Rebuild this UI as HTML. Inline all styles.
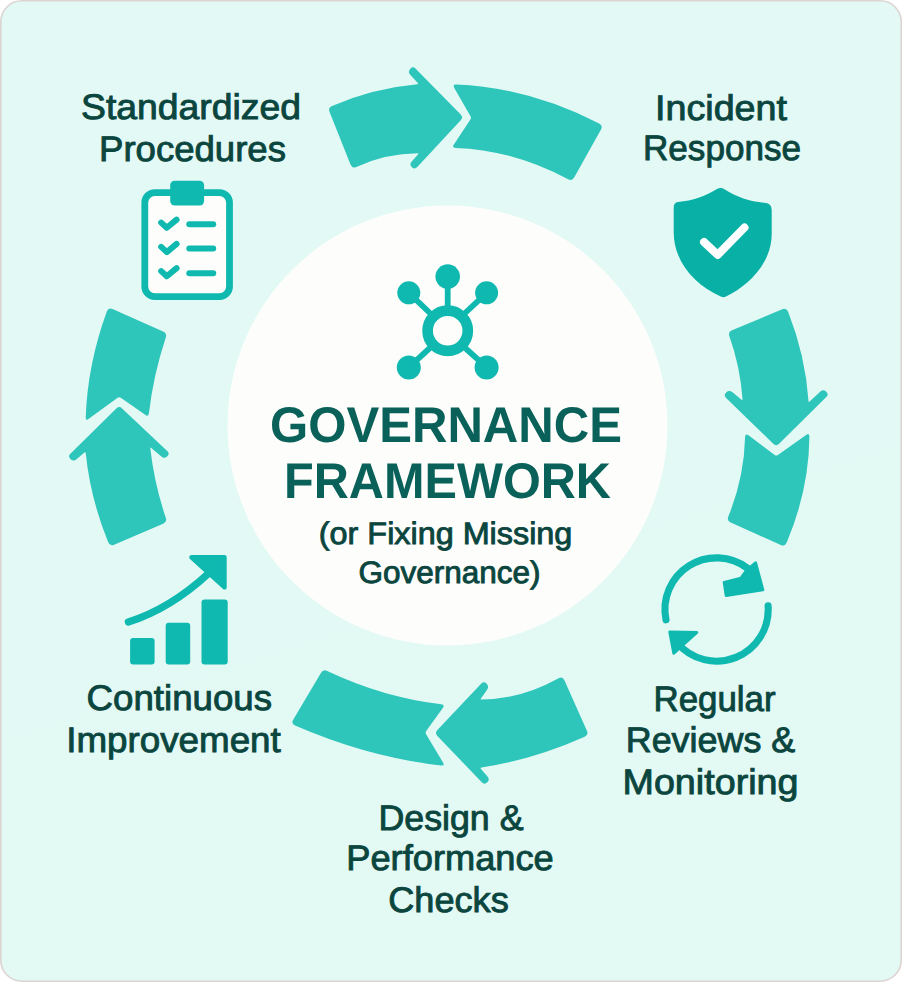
<!DOCTYPE html>
<html><head><meta charset="utf-8"><style>
html,body{margin:0;padding:0;background:#fff;width:902px;height:982px;overflow:hidden}
svg{display:block}
text{font-family:"Liberation Sans",sans-serif;text-anchor:middle;text-rendering:geometricPrecision}
</style></head><body>
<svg width="902" height="982" viewBox="0 0 902 982">
<defs>
<linearGradient id="bg" x1="0" y1="0" x2="0.3" y2="1">
<stop offset="0" stop-color="#e3f9f5"/><stop offset="1" stop-color="#e3f9f4"/>
</linearGradient>
</defs>
<rect x="0.8" y="0.8" width="900.4" height="980.4" rx="21" ry="21" fill="url(#bg)" stroke="#ddd4d1" stroke-width="1.6"/>
<circle cx="447.5" cy="425.5" r="220" fill="#fdfefb"/>
<g fill="#2ec5ba">
<path d="M332.0,105.9 Q374.2,88.0 417.3,84.2 Q418.8,84.0 417.8,82.9 L410.2,74.7 Q407.5,71.8 410.2,68.9 L410.3,68.8 Q413.0,65.9 415.7,68.7 L460.7,114.4 Q463.5,117.3 460.7,120.2 L417.3,167.1 Q414.7,170.0 411.9,167.2 L411.8,167.0 Q409.0,164.3 411.7,161.4 L418.2,154.3 Q419.2,153.2 417.7,153.2 Q385.7,153.4 356.3,166.9 Q352.2,168.8 350.5,164.6 L329.5,111.8 Q327.9,107.6 332.0,105.9Z"/>
<path d="M456.3,84.5 Q527.7,87.1 599.1,123.4 Q603.1,125.4 601.0,129.4 L574.3,177.3 Q572.1,181.3 568.1,179.2 Q512.9,149.9 455.7,147.9 Q451.7,147.8 453.9,144.5 L470.4,119.6 Q471.5,117.9 470.5,116.2 L454.3,87.9 Q452.3,84.4 456.3,84.5Z"/>
<path d="M732.0,330.2 L782.2,309.3 Q786.4,307.5 788.1,311.7 Q805.5,355.9 808.5,401.1 Q808.5,402.6 809.6,401.6 L820.4,391.6 Q823.2,388.9 826.1,391.6 L826.2,391.7 Q829.1,394.4 826.3,397.1 L779.1,443.8 Q776.2,446.6 773.3,443.8 L726.1,397.9 Q723.3,395.1 726.2,392.5 L726.3,392.3 Q729.2,389.6 732.2,392.1 L741.5,399.7 Q742.6,400.6 742.5,399.1 Q740.2,366.3 729.4,336.2 Q727.8,332.0 732.0,330.2Z"/>
<path d="M748.5,435.3 L774.7,454.9 Q776.3,456.1 777.9,454.9 L806.1,435.0 Q809.4,432.6 809.4,436.6 Q809.0,489.7 786.7,542.5 Q785.0,546.7 780.8,544.9 L730.7,522.6 Q726.6,520.8 728.3,516.6 Q744.1,477.9 745.1,436.9 Q745.2,432.9 748.5,435.3Z"/>
<path d="M437.4,730.1 L481.1,683.7 Q483.8,680.8 486.5,683.6 L486.6,683.8 Q489.4,686.6 487.1,689.7 L480.9,698.4 Q480.0,699.6 481.5,699.6 Q520.9,699.2 558.6,678.2 Q562.5,676.1 564.4,680.2 L586.9,730.8 Q588.8,734.9 584.7,736.8 Q533.6,759.6 481.5,767.5 Q480.0,767.8 481.0,768.9 L487.5,776.4 Q490.1,779.4 487.4,782.2 L487.2,782.3 Q484.5,785.2 481.8,782.3 L437.4,735.9 Q434.6,733.0 437.4,730.1Z"/>
<path d="M327.2,670.9 Q383.1,697.3 441.2,704.2 Q445.1,704.7 442.8,708.0 L426.2,731.0 Q425.1,732.6 426.1,734.3 L443.0,762.5 Q445.1,766.0 441.1,765.5 Q368.0,757.0 295.0,725.4 Q290.9,723.6 293.2,719.7 L320.9,672.9 Q323.1,669.0 327.2,670.9Z"/>
<path d="M122.1,408.4 L167.2,450.9 Q170.1,453.6 167.3,456.3 L167.1,456.4 Q164.3,459.2 161.4,456.6 L151.3,447.9 Q150.2,446.9 150.3,448.4 Q154.5,484.5 165.8,517.8 Q167.3,522.0 163.1,523.8 L114.1,544.7 Q109.9,546.5 108.2,542.3 Q90.3,498.2 85.7,453.1 Q85.6,451.6 84.4,452.6 L76.5,459.3 Q73.5,461.9 70.6,459.2 L70.5,459.1 Q67.6,456.4 70.4,453.7 L116.3,408.4 Q119.2,405.6 122.1,408.4Z"/>
<path d="M112.5,309.0 L163.1,331.4 Q167.2,333.3 165.8,337.5 Q153.5,374.4 148.9,413.2 Q148.5,417.1 145.2,414.8 L120.8,397.8 Q119.2,396.6 117.6,397.8 L88.8,418.8 Q85.6,421.2 85.7,417.2 Q87.6,364.2 106.8,311.4 Q108.4,307.2 112.5,309.0Z"/>
</g>
<!-- clipboard -->
<g>
<rect x="144.8" y="192.6" width="84.7" height="104" rx="10" fill="#fdfefb" stroke="#0fb9b0" stroke-width="6.8"/>
<rect x="170.2" y="180.7" width="33.9" height="24.9" rx="4.5" fill="#0fb9b0"/>
<g fill="none" stroke="#0fb9b0" stroke-width="6" stroke-linecap="round" stroke-linejoin="round">
<path d="M161.2,222.6 L166.8,227.8 L176.6,219.6"/>
<path d="M161.2,246.9 L166.8,252.1 L176.6,243.9"/>
<path d="M161.2,271.1 L166.8,276.3 L176.6,268.1"/>
</g>
<g stroke="#0fb9b0" stroke-width="6" stroke-linecap="round">
<line x1="189.3" y1="224.2" x2="213.2" y2="224.2"/>
<line x1="189.3" y1="248.6" x2="213.2" y2="248.6"/>
<line x1="189.3" y1="273.2" x2="213.2" y2="273.2"/>
</g>
</g>
<!-- shield -->
<path fill="#09b0a6" d="M716.5,189.2 Q720.5,186.6 724.5,189.2 C737,197.5 751,201.5 766,203 Q771.7,203.8 771.7,210 L771.7,234 C771.7,262 750,285 726,296.5 Q723.4,297.8 720.8,296.5 C695,285 673.7,262 673.7,232 L673.7,208 Q673.7,202.6 678,202 C693,200.5 705,196.5 716.5,189.2 Z"/>
<path d="M704,242 L717.7,254.9 L744.5,227.5" fill="none" stroke="#fff" stroke-width="8" stroke-linecap="round" stroke-linejoin="round"/>
<!-- network -->
<g fill="#0fb9b0">
<circle cx="447.7" cy="276.6" r="12.3"/>
<circle cx="408.8" cy="292.8" r="11.5"/>
<circle cx="486.6" cy="292.8" r="11.5"/>
<circle cx="408.8" cy="367.4" r="12"/>
<circle cx="486.6" cy="367.4" r="12"/>
</g>
<g stroke="#0fb9b0" stroke-width="5.8">
<line x1="447.7" y1="280" x2="447.7" y2="310"/>
<line x1="408.8" y1="292.8" x2="432" y2="315"/>
<line x1="486.6" y1="292.8" x2="463" y2="315"/>
<line x1="408.8" y1="367.4" x2="432" y2="346"/>
<line x1="486.6" y1="367.4" x2="463" y2="346"/>
</g>
<circle cx="447.7" cy="330.7" r="20.1" fill="none" stroke="#0fb9b0" stroke-width="10.7"/>
<!-- refresh -->
<g fill="none" stroke="#0fb9b0" stroke-width="7.1" stroke-linecap="round">
<path d="M666.0,619.8 A51.6,51.6 0 0 1 747.7,568.3"/>
<path d="M768.1,605.9 A51.6,51.6 0 0 1 677.1,642.7"/>
</g>
<g fill="#0fb9b0" stroke="#0fb9b0" stroke-width="3" stroke-linejoin="round">
<path d="M755.6,562.8 L762.8,589.8 L726.2,595.6 L724.2,582.4 L741,578.2 L746,571 Z"/>
<path d="M669.8,632 L696.8,632.4 L673.8,653.2 Z"/>
</g>
<!-- chart -->
<g fill="#0fb9b0">
<rect x="130.1" y="638" width="24.5" height="26.6" rx="3"/>
<rect x="165.7" y="622.8" width="24.5" height="41.8" rx="3"/>
<rect x="201.5" y="599.5" width="26.2" height="65.1" rx="3"/>
</g>
<path d="M128.3,622 Q170,609 209,573" fill="none" stroke="#0fb9b0" stroke-width="7.2" stroke-linecap="round"/>
<path d="M191.4,557.3 L224.5,557.3 L224.5,587.4 Z" fill="#0fb9b0" stroke="#0fb9b0" stroke-width="4.4" stroke-linejoin="round"/>
<text x="191.0" y="119.4" font-size="35.5" font-weight="400" fill="#0a453e" stroke="#0a453e" stroke-width="0.9" textLength="220.0" lengthAdjust="spacingAndGlyphs">Standardized</text>
<text x="192.5" y="161.2" font-size="35.5" font-weight="400" fill="#0a453e" stroke="#0a453e" stroke-width="0.9" textLength="187.0" lengthAdjust="spacingAndGlyphs">Procedures</text>
<text x="721.0" y="119.8" font-size="35.5" font-weight="400" fill="#0a453e" stroke="#0a453e" stroke-width="0.9" textLength="132.0" lengthAdjust="spacingAndGlyphs">Incident</text>
<text x="722.0" y="160.4" font-size="35.5" font-weight="400" fill="#0a453e" stroke="#0a453e" stroke-width="0.9" textLength="158.0" lengthAdjust="spacingAndGlyphs">Response</text>
<text x="179.3" y="710.4" font-size="35.5" font-weight="400" fill="#0a453e" stroke="#0a453e" stroke-width="0.9" textLength="185.4" lengthAdjust="spacingAndGlyphs">Continuous</text>
<text x="173.5" y="752.2" font-size="35.5" font-weight="400" fill="#0a453e" stroke="#0a453e" stroke-width="0.9" textLength="214.6" lengthAdjust="spacingAndGlyphs">Improvement</text>
<text x="714.5" y="710.5" font-size="35.5" font-weight="400" fill="#0a453e" stroke="#0a453e" stroke-width="0.9" textLength="122.0" lengthAdjust="spacingAndGlyphs">Regular</text>
<text x="710.5" y="751.5" font-size="35.5" font-weight="400" fill="#0a453e" stroke="#0a453e" stroke-width="0.9" textLength="169.5" lengthAdjust="spacingAndGlyphs">Reviews &amp;</text>
<text x="710.5" y="793.6" font-size="35.5" font-weight="400" fill="#0a453e" stroke="#0a453e" stroke-width="0.9" textLength="176.0" lengthAdjust="spacingAndGlyphs">Monitoring</text>
<text x="451.0" y="829.6" font-size="35.5" font-weight="400" fill="#0a453e" stroke="#0a453e" stroke-width="0.9" textLength="145.0" lengthAdjust="spacingAndGlyphs">Design &amp;</text>
<text x="450.0" y="870.3" font-size="35.5" font-weight="400" fill="#0a453e" stroke="#0a453e" stroke-width="0.9" textLength="207.5" lengthAdjust="spacingAndGlyphs">Performance</text>
<text x="448.5" y="912.1" font-size="35.5" font-weight="400" fill="#0a453e" stroke="#0a453e" stroke-width="0.9" textLength="120.5" lengthAdjust="spacingAndGlyphs">Checks</text>
<text x="446.0" y="441.5" font-size="50" font-weight="700" fill="#0a6159" textLength="352.0" lengthAdjust="spacingAndGlyphs">GOVERNANCE</text>
<text x="447.5" y="497.8" font-size="50" font-weight="700" fill="#0a6159" textLength="327.0" lengthAdjust="spacingAndGlyphs">FRAMEWORK</text>
<text x="445.6" y="543.5" font-size="31" font-weight="400" fill="#0a453e" stroke="#0a453e" stroke-width="0.9" textLength="253.5" lengthAdjust="spacingAndGlyphs">(or Fixing Missing</text>
<text x="449.5" y="583.0" font-size="31" font-weight="400" fill="#0a453e" stroke="#0a453e" stroke-width="0.9" textLength="182.0" lengthAdjust="spacingAndGlyphs">Governance)</text>
</svg>
</body></html>
